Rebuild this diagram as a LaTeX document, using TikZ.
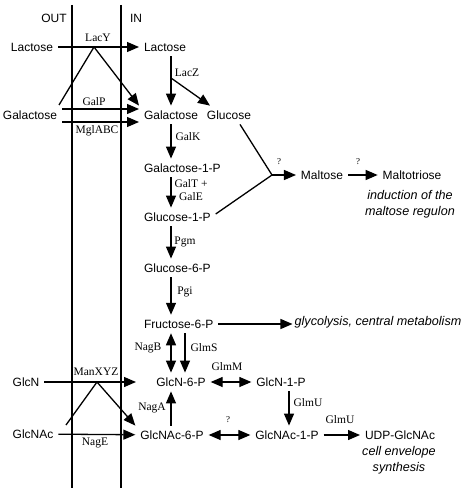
\documentclass[tikz,border=0pt]{standalone}
\usepackage{fontspec}
\setmainfont{Liberation Serif}
\setsansfont{Liberation Sans}
\usetikzlibrary{arrows.meta}

\begin{document}
\begin{tikzpicture}[x=1pt,y=-1pt,
  met/.style={font=\sffamily\fontsize{12}{14}\selectfont, inner sep=2pt, outer sep=3pt},
  enz/.style={font=\fontsize{11.5}{13}\selectfont, inner sep=1pt, align=center},
  qm/.style={font=\fontsize{9}{10}\selectfont, inner sep=1pt},
  note/.style={font=\sffamily\itshape\fontsize{12.6}{16}\selectfont, inner sep=2pt, align=center},
  arr/.style={line width=1.3pt, -{Triangle[length=12pt,width=10pt]}},
  darr/.style={line width=1.3pt, {Triangle[length=12pt,width=10pt]}-{Triangle[length=12pt,width=10pt]}},
  ln/.style={line width=1.3pt}]
  \useasboundingbox (0,0) rectangle (469,494);

  % Membrane
  \draw[ln] (72,5) -- (72,488);
  \draw[ln] (121,5) -- (121,488);
  \node[met] (outside) at (54,18) {OUT};
  \node[met] (inside) at (136,18) {IN};

  % Sugars outside
  \node[met] (lacout) at (32,47) {Lactose};
  \node[met] (galout) at (30,115) {Galactose};
  \node[met] (glcnout) at (26,382) {GlcN};
  \node[met] (glcnacout) at (33,434) {GlcNAc};

  % Metabolites inside
  \node[met,anchor=west] (lacin) at (139,47) {Lactose};
  \node[met,anchor=west] (galin) at (139,115) {Galactose};
  \node[met] (glc) at (229,115) {Glucose};
  \node[met,anchor=west] (gal1p) at (139,168) {Galactose-1-P};
  \node[met,anchor=west] (glc1p) at (139,217) {Glucose-1-P};
  \node[met,anchor=west] (glc6p) at (139,268) {Glucose-6-P};
  \node[met,anchor=west] (fru6p) at (139,324) {Fructose-6-P};
  \node[met] (glcn6p) at (181,382) {GlcN-6-P};
  \node[met] (glcnac6p) at (172,435) {GlcNAc-6-P};
  \node[met] (glcn1p) at (281,382) {GlcN-1-P};
  \node[met] (glcnac1p) at (287,435) {GlcNAc-1-P};
  \node[met] (udp) at (400,435) {UDP-GlcNAc};
  \node[met] (maltose) at (322,175) {Maltose};
  \node[met] (maltotriose) at (412,175) {Maltotriose};

  % Fates
  \node[note] (maltnote) at (410,204) {induction of the\\maltose regulon};
  \node[note] (glyco) at (378,322) {glycolysis, central metabolism};
  \node[note] (envnote) at (399,460) {cell envelope\\synthesis};

  \coordinate (spine) at (171,0);
  \coordinate (glmsx) at (185,0);
  \coordinate (glmux) at (289,0);

  % Transport
  \draw[arr] (lacout) -- (lacin);
  \node[enz] (lacy) at (98,38) {LacY};
  \coordinate (lacysplit) at (94,47);
  \coordinate (lacyfoot) at (59,105);
  \draw[arr] (lacyfoot) -- (lacysplit) -- (galin.north west);
  \draw[arr] ([yshift=6pt]galout.east) -- ([yshift=6pt]galin.west);
  \node[enz] (galp) at (94,102) {GalP};
  \draw[arr] ([yshift=-7pt]galout.east) -- ([yshift=-7pt]galin.west);
  \node[enz] (mglabc) at (97,131) {MglABC};
  \coordinate (manin) at (136,382);
  \draw[arr] (glcnout) -- (manin);
  \node[enz] (manxyz) at (96,372) {ManXYZ};
  \coordinate (mansplit) at (97,382);
  \coordinate (manfoot) at (66,425);
  \draw[arr] (manfoot) -- (mansplit) -- (glcnac6p.north west);
  \draw[arr] (glcnacout) -- (glcnac6p);
  \node[enz] (nage) at (95,443) {NagE};

  % Galactose and lactose
  \draw[arr] (lacin.south -| spine) -- (galin.north -| spine);
  \node[enz] (lacz) at (187,73) {LacZ};
  \coordinate (laczsplit) at (171,78);
  \draw[arr] (laczsplit) -- ([xshift=8pt]glc.north west);
  \draw[arr] (galin.south -| spine) -- (gal1p.north -| spine);
  \node[enz] (galk) at (188,137) {GalK};
  \draw[arr] (gal1p.south -| spine) -- (glc1p.north -| spine);
  \node[enz] (galte) at (191,190) {GalT +\\GalE};
  \draw[arr] (glc1p.south -| spine) -- (glc6p.north -| spine);
  \node[enz] (pgm) at (185,242) {Pgm};
  \draw[arr] (glc6p.south -| spine) -- (fru6p.north -| spine);
  \node[enz] (pgi) at (185,292) {Pgi};
  \draw[arr] (fru6p.east) -- (glyco.west |- fru6p.east);

  % Maltose
  \coordinate (junc) at (272,175);
  \draw[ln] ([xshift=11pt]glc.south) -- (junc) -- ([yshift=3pt]glc1p.east);
  \draw[arr] (junc) -- (maltose);
  \node[qm] (q1) at (279,162) {?};
  \draw[arr] (maltose) -- (maltotriose);
  \node[qm] (q2) at (358,162) {?};

  % Amino sugars
  \draw[darr] (fru6p.south -| spine) -- (glcn6p.north -| spine);
  \node[enz] (nagb) at (148,348) {NagB};
  \draw[arr] (fru6p.south -| glmsx) -- (glcn6p.north -| glmsx);
  \node[enz] (glms) at (204,348) {GlmS};
  \draw[darr] (glcn6p) -- (glcn1p);
  \node[enz] (glmm) at (227,367) {GlmM};
  \draw[arr] (glcn1p.south -| glmux) -- (glcnac1p.north -| glmux);
  \node[enz] (glmua) at (308,403) {GlmU};
  \draw[arr] (glcnac6p.north -| spine) -- (glcn6p.south -| spine);
  \node[enz] (naga) at (152,408) {NagA};
  \draw[darr] (glcnac6p) -- (glcnac1p);
  \node[qm] (q3) at (228,420) {?};
  \draw[arr] (glcnac1p) -- (udp);
  \node[enz] (glmub) at (340,420) {GlmU};
\end{tikzpicture}
\end{document}
